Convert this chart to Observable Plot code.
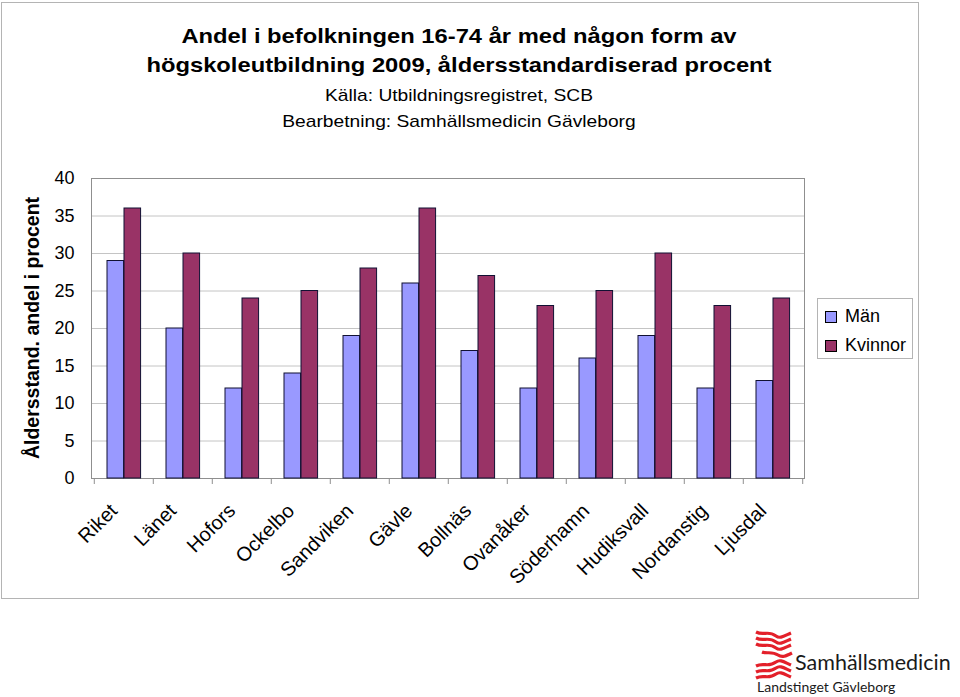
<!DOCTYPE html>
<html>
<head>
<meta charset="utf-8">
<script src="https://cdn.jsdelivr.net/npm/d3@7"></script>
<script src="https://cdn.jsdelivr.net/npm/@observablehq/plot@0.6"></script>
<style>
  html, body { margin: 0; padding: 0; background: #fff; }
  #page { position: relative; width: 960px; height: 697px; overflow: hidden; font-family: "Liberation Sans", Arial, sans-serif; color: #000; }
  #frame { position: absolute; left: 1px; top: 2px; width: 916px; height: 595px; border: 1px solid #b4b4b4; }
  #title { position: absolute; left: 0; width: 918px; top: 21px; text-align: center; font-weight: bold; font-size: 21px; line-height: 29px; }
  #subtitle { position: absolute; left: 0; width: 918px; top: 83px; text-align: center; font-size: 17px; line-height: 26px; }
  #title div, #subtitle div { transform: scaleX(1.13); transform-origin: 459px 50%; }
  #ylabel { position: absolute; left: 32px; top: 328px; transform: translate(-50%, -50%) rotate(-90deg); white-space: nowrap; font-weight: bold; font-size: 19.5px; }
  #chart { position: absolute; left: 0; top: 160px; }
  #legend { position: absolute; left: 817px; top: 298px; width: 94px; height: 59px; border: 1px solid #b4b4b4; background: #fff; font-size: 18px; }
  .item { position: absolute; left: 7px; height: 22px; line-height: 22px; white-space: nowrap; }
  .sw { display: inline-block; width: 10px; height: 10px; border: 1px solid #000; margin-right: 8px; vertical-align: -1px; }
  #logo { position: absolute; left: 750px; top: 625px; }
  .logotext { position: absolute; font-family: Lato, "Open Sans", sans-serif; color: #1a1a1a; white-space: nowrap; }
  #logo1 { left: 795px; top: 648px; font-size: 21.5px; line-height: 28px; }
  #logo2 { left: 757px; top: 678px; font-size: 14px; line-height: 18px; }
</style>
</head>
<body>
<div id="page">
  <div id="frame"></div>
  <div id="title"></div>
  <div id="subtitle"></div>
  <div id="chart"></div>
  <div id="ylabel"></div>
  <div id="legend"></div>
  <svg id="logo" width="46" height="64" viewBox="0 0 46 64">
    <g fill="none" stroke="#e3202a" stroke-width="3.2" stroke-linecap="butt">
      <path d="M6 7 C14 11 18 5 26 11 C30 14 34 11 41 8"/>
      <path d="M6 13 C14 17 18 11 26 17 C30 20 34 17 41 14"/>
      <path d="M6 19 C14 23 18 17 26 23 C30 26 34 23 41 20"/>
      <path d="M12 27 C17 29 22 26 28 30 C32 33 36 31 42 28"/>
      <path d="M6 41 C14 37 18 43 26 37 C30 34 34 37 41 40"/>
      <path d="M6 47 C14 43 18 49 26 43 C30 40 34 43 41 46"/>
      <path d="M6 53 C14 49 18 55 26 49 C30 46 34 49 41 52"/>
    </g>
  </svg>
  <div class="logotext" id="logo1">Samhällsmedicin</div>
  <div class="logotext" id="logo2">Landstinget Gävleborg</div>
</div>
<script>
const titleLines = ["Andel i befolkningen 16-74 år med någon form av", "högskoleutbildning 2009, åldersstandardiserad procent"];
const subtitleLines = ["Källa: Utbildningsregistret, SCB", "Bearbetning: Samhällsmedicin Gävleborg"];
const yLabel = "Åldersstand. andel i procent";

const categories = ["Riket", "Länet", "Hofors", "Ockelbo", "Sandviken", "Gävle", "Bollnäs", "Ovanåker", "Söderhamn", "Hudiksvall", "Nordanstig", "Ljusdal"];
const series = ["Män", "Kvinnor"];
const manValues = [29, 20, 12, 14, 19, 26, 17, 12, 16, 19, 12, 13];
const kvinnorValues = [36, 30, 24, 25, 28, 36, 27, 23, 25, 30, 23, 24];
const yTicks = [0, 5, 10, 15, 20, 25, 30, 35, 40];
const colors = ["#9999ff", "#993366"];

document.getElementById("title").innerHTML = titleLines.map(t => `<div>${t}</div>`).join("");
document.getElementById("subtitle").innerHTML = subtitleLines.map(t => `<div>${t}</div>`).join("");
document.getElementById("ylabel").textContent = yLabel;
document.getElementById("legend").innerHTML = series.map((s, i) =>
  `<div class="item" style="top:${6 + i * 29}px"><span class="sw" style="background:${colors[i]}"></span>${s}</div>`).join("");

const data = categories.flatMap((c, i) => [
  {kommun: c, kon: series[0], value: manValues[i]},
  {kommun: c, kon: series[1], value: kvinnorValues[i]}
]);

const width = 960, height = 440;
const marginLeft = 91, marginRight = 156, marginTop = 18, marginBottom = 122;
const bw = (width - marginLeft - marginRight) / categories.length;
const barW = 17;
const off = 13;

const chart = Plot.plot({
  width, height, marginLeft, marginRight, marginTop, marginBottom,
  style: {fontFamily: "'Liberation Sans', Arial, sans-serif", fontSize: "18px", color: "#000", background: "transparent", overflow: "visible"},
  x: {type: "band", domain: categories, padding: 0, axis: null},
  y: {domain: [0, 40], axis: null},
  marks: [
    Plot.gridY(yTicks.slice(1, -1), {stroke: "#c4c4c4", strokeOpacity: 1}),
    Plot.frame({stroke: "#8f8f8f"}),
    Plot.barY(data.filter(d => d.kon === series[0]), {x: "kommun", y: "value", fill: colors[0], stroke: "#111133", strokeWidth: 1, insetLeft: off, insetRight: bw - off - barW}),
    Plot.barY(data.filter(d => d.kon === series[1]), {x: "kommun", y: "value", fill: colors[1], stroke: "#111133", strokeWidth: 1, insetLeft: off + barW, insetRight: bw - off - 2 * barW}),
    Plot.axisY({ticks: yTicks, tickSize: 0, tickPadding: 17, label: null}),
    Plot.axisX({ticks: categories, tickSize: 6, tickFormat: () => "", dx: -bw / 2, label: null, stroke: "#8f8f8f"}),
    Plot.axisX({ticks: categories.slice(-1), tickSize: 6, tickFormat: () => "", dx: bw / 2, label: null, stroke: "#8f8f8f"}),
    Plot.axisX({ticks: categories, tickSize: 0, tickPadding: 29, tickRotate: -45, dx: -10, fontSize: 20, label: null})
  ]
});
document.getElementById("chart").appendChild(chart);
</script>
</body>
</html>
